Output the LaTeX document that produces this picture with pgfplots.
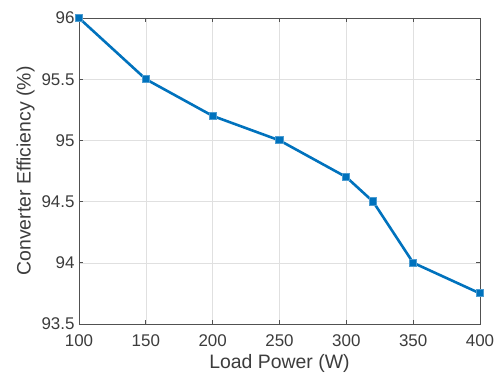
\documentclass[border=0pt]{standalone}
\usepackage{pgfplots}
\pgfplotsset{compat=1.18}
\usepackage{fontspec}
\setmainfont{Liberation Sans}
\definecolor{mblue}{RGB}{0,114,189}
\definecolor{mgray}{RGB}{38,38,38}
\begin{document}
\begin{tikzpicture}
\begin{axis}[
  at={(0,0)}, anchor=south west,
  scale only axis, width=401bp, height=306bp,
  xmin=100, xmax=400, ymin=93.5, ymax=96,
  xtick={100,150,...,400},
  ytick={93.5,94,94.5,95,95.5,96},
  yticklabels={93.5,94,94.5,95,95.5,96},
  xticklabels={100,150,200,250,300,350,400},
  grid=major,
  major grid style={line width=0.5bp, draw=black!12},
  axis line style={draw=mgray!80, line width=0.7bp},
  tick style={draw=mgray!80, line width=0.7bp},
  tick align=inside, major tick length=4bp,
  ticklabel style={font=\fontsize{17}{19}\selectfont, text=mgray!90},
  xticklabel style={yshift=-7bp},
  yticklabel style={xshift=-1bp},
  xlabel={Load Power (W)}, ylabel={Converter Efficiency (\%)},
  label style={font=\fontsize{19.5}{22}\selectfont, text=mgray!90},
  xlabel style={yshift=-1bp},
  ylabel style={yshift=0bp},
  /pgf/number format/assume math mode=true,
]
\addplot[mblue, line width=2.6bp, mark=square*, mark size=3.6bp,
  mark options={fill=mblue, draw=mblue!70, line width=1bp}] coordinates {
  (100,96) (150,95.5) (200,95.2) (250,95) (300,94.7) (320,94.5) (350,94) (400,93.75)
};
\end{axis}
\useasboundingbox (-79bp,-52bp) rectangle (422bp,324bp);
\end{tikzpicture}
\end{document}
